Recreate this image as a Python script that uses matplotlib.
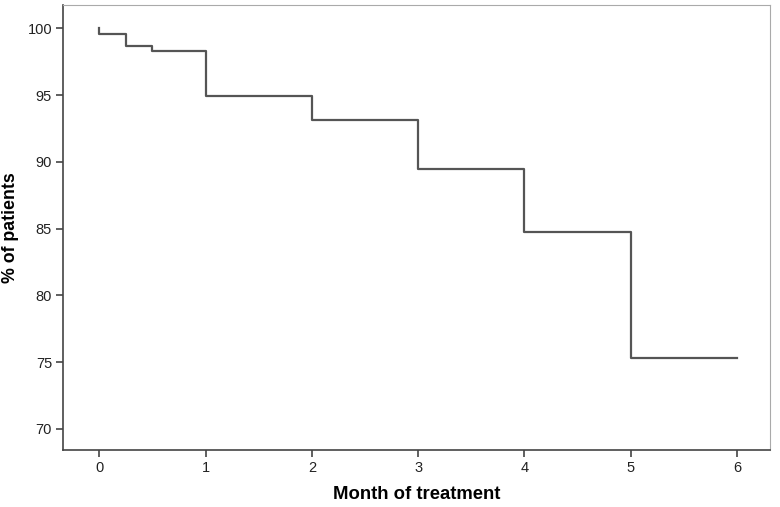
import matplotlib
matplotlib.use("Agg")
import matplotlib.pyplot as plt

# survival curve
months = [0, 0, 0.25, 0.5, 1, 2, 3, 4, 5, 6]
pct_patients = [100, 99.6, 98.7, 98.3, 94.95, 93.15, 89.45, 84.75, 75.3, 75.3]

x_ticks = [0, 1, 2, 3, 4, 5, 6]
y_ticks = [70, 75, 80, 85, 90, 95, 100]

plt.rcParams['font.family'] = ['Liberation Sans', 'DejaVu Sans']

fig = plt.figure(figsize=(7.8, 5.07), dpi=100)
ax = fig.add_axes([0.081, 0.112, 0.906, 0.878])

ax.step(months, pct_patients, where='post', color='#555555', linewidth=1.6)

ax.set_xlim(-0.34, 6.31)
ax.set_ylim(68.4, 101.75)
ax.set_xticks(x_ticks)
ax.set_yticks(y_ticks)
ax.tick_params(axis='both', direction='out', length=5, width=1.2, color='#444444',
               labelsize=10.5, labelcolor='#222222', pad=3)

ax.spines['left'].set_color('#444444')
ax.spines['bottom'].set_color('#444444')
ax.spines['left'].set_linewidth(1.2)
ax.spines['bottom'].set_linewidth(1.2)
ax.spines['top'].set_color('#aaaaaa')
ax.spines['right'].set_color('#aaaaaa')

ax.set_xlabel('Month of treatment', fontsize=13.3, fontweight='bold', labelpad=8)
ax.set_ylabel('% of patients', fontsize=12.8, fontweight='bold', labelpad=6)

plt.savefig('out.png', dpi=100)
plt.close()
